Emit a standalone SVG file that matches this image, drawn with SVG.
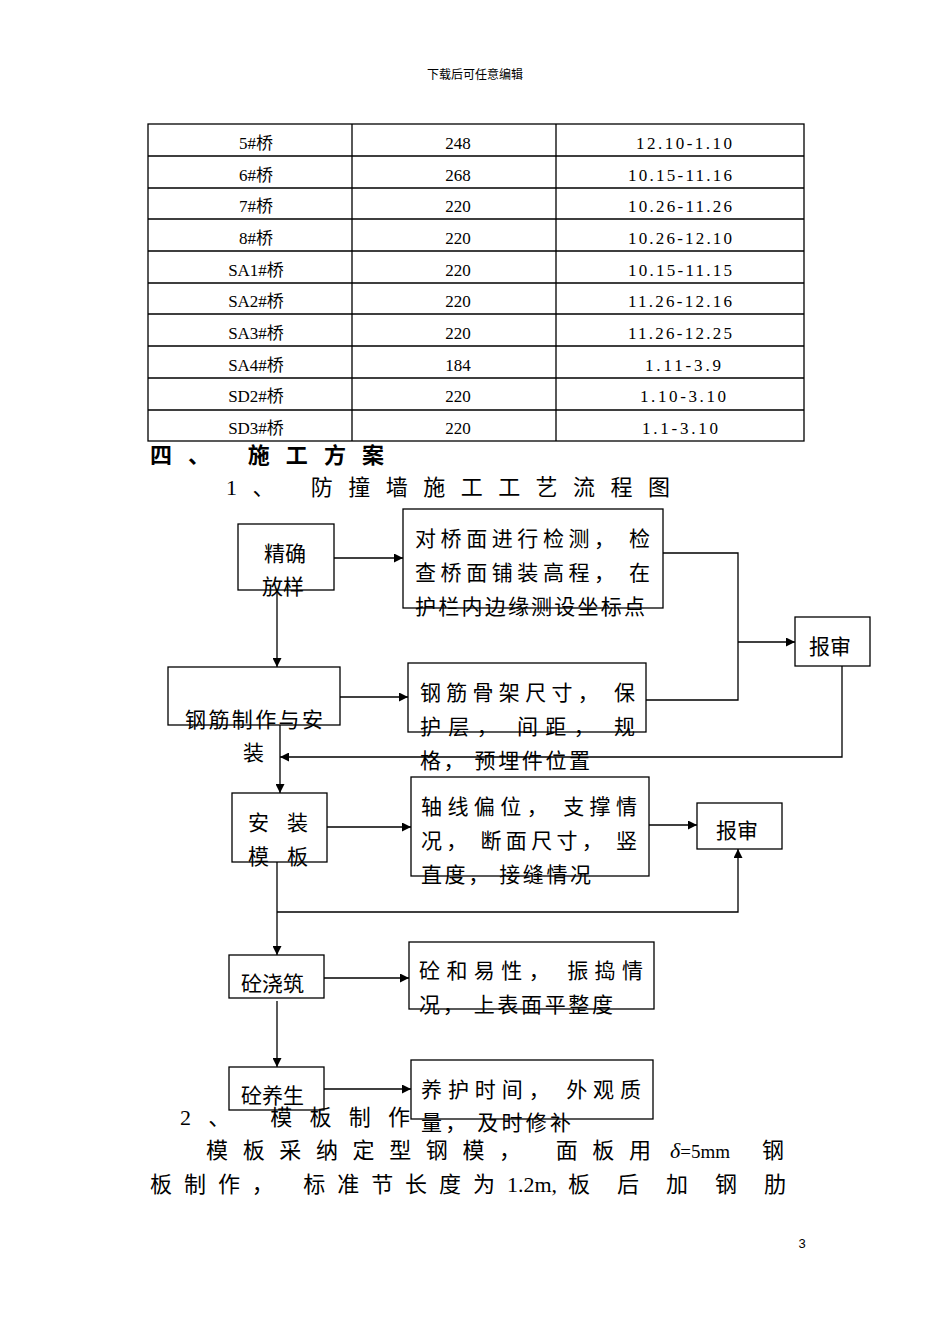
<svg xmlns="http://www.w3.org/2000/svg" width="950" height="1344" viewBox="0 0 950 1344">
<style>
.t{font-family:"Liberation Serif","Noto Sans CJK SC",serif;font-size:17px;fill:#000;text-anchor:middle}
.b{font-family:"Noto Sans CJK SC",sans-serif;font-size:21px;fill:#000}
.r{fill:#fff;stroke:#000;stroke-width:1.3}
.c{stroke:#000;stroke-width:1.3;fill:none}
.h{font-family:"Liberation Serif","Noto Sans CJK SC",serif;font-size:22px;fill:#000}
</style>
<defs><marker id="a" viewBox="0 0 10 10" refX="10" refY="5" markerWidth="9" markerHeight="9" markerUnits="userSpaceOnUse" orient="auto"><path d="M0,0L10,5L0,10z"/></marker></defs>
<rect width="950" height="1344" fill="#fff"/>
<text x="475" y="79" class="t" style="font-size:12px">下载后可任意编辑</text>
<g id="table" class="c">
<rect x="148" y="124" width="656" height="317"/>
<path d="M352 124V441M556 124V441M148 156H804M148 188H804M148 219H804M148 251H804M148 283H804M148 314H804M148 346H804M148 378H804M148 410H804"/>
</g>
<g>
<text class="t" x="256" y="149">5#桥</text><text class="t" x="458" y="149">248</text><text class="t" x="684" y="149" textLength="96">12.10-1.10</text>
<text class="t" x="256" y="181">6#桥</text><text class="t" x="458" y="181">268</text><text class="t" x="680" y="181" textLength="104">10.15-11.16</text>
<text class="t" x="256" y="212">7#桥</text><text class="t" x="458" y="212">220</text><text class="t" x="680" y="212" textLength="104">10.26-11.26</text>
<text class="t" x="256" y="244">8#桥</text><text class="t" x="458" y="244">220</text><text class="t" x="680" y="244" textLength="104">10.26-12.10</text>
<text class="t" x="256" y="276">SA1#桥</text><text class="t" x="458" y="276">220</text><text class="t" x="680" y="276" textLength="104">10.15-11.15</text>
<text class="t" x="256" y="307">SA2#桥</text><text class="t" x="458" y="307">220</text><text class="t" x="680" y="307" textLength="104">11.26-12.16</text>
<text class="t" x="256" y="339">SA3#桥</text><text class="t" x="458" y="339">220</text><text class="t" x="680" y="339" textLength="104">11.26-12.25</text>
<text class="t" x="256" y="371">SA4#桥</text><text class="t" x="458" y="371">184</text><text class="t" x="683" y="371" textLength="76">1.11-3.9</text>
<text class="t" x="256" y="402">SD2#桥</text><text class="t" x="458" y="402">220</text><text class="t" x="683" y="402" textLength="86">1.10-3.10</text>
<text class="t" x="256" y="434">SD3#桥</text><text class="t" x="458" y="434">220</text><text class="t" x="680" y="434" textLength="76">1.1-3.10</text>
</g>
<text class="h" x="150" y="463" font-weight="bold" textLength="234" lengthAdjust="spacing">四、 施工方案</text>
<text class="h" x="226" y="495" textLength="444" lengthAdjust="spacing">1、 防撞墙施工工艺流程图</text>
<g id="connectors" class="c">
<path d="M334 558H403" marker-end="url(#a)"/>
<path d="M277 590V667" marker-end="url(#a)"/>
<path d="M663 553H738V700H646"/>
<path d="M738 642H795" marker-end="url(#a)"/>
<path d="M340 697H408" marker-end="url(#a)"/>
<path d="M842 666V757H280" marker-end="url(#a)"/>
<path d="M280 725V793" marker-end="url(#a)"/>
<path d="M327 827H411" marker-end="url(#a)"/>
<path d="M649 825H697" marker-end="url(#a)"/>
<path d="M277 862V955" marker-end="url(#a)"/>
<path d="M277 912H738V849" marker-end="url(#a)"/>
<path d="M277 1001V1067" marker-end="url(#a)"/>
<path d="M324 978H409" marker-end="url(#a)"/>
<path d="M324 1089H411" marker-end="url(#a)"/>
</g>
<g id="n1"><rect class="r" x="238" y="524" width="96" height="66"/><text class="b" x="264" y="561">精确</text><text class="b" x="262" y="594">放样</text></g>
<g id="n2"><rect class="r" x="403" y="509" width="260" height="99"/><text class="b" x="415" y="546" textLength="235">对桥面进行检测，  检</text><text class="b" x="415" y="580" textLength="235">查桥面铺装高程，  在</text><text class="b" x="415" y="614" textLength="230">护栏内边缘测设坐标点</text></g>
<g id="n3"><rect class="r" x="168" y="667" width="172" height="58"/><text class="b" x="185" y="727" textLength="138">钢筋制作与安</text><text class="b" x="243" y="760">装</text></g>
<g id="n4"><rect class="r" x="408" y="663" width="238" height="69"/><text class="b" x="420" y="700" textLength="215">钢筋骨架尺寸，  保</text><text class="b" x="420" y="734" textLength="215">护层，  间距，  规</text><text class="b" x="420" y="768" textLength="170">格，  预埋件位置</text></g>
<g id="n5"><rect class="r" x="795" y="617" width="75" height="49"/><text class="b" x="809" y="654">报审</text></g>
<g id="n6"><rect class="r" x="232" y="793" width="95" height="69"/><text class="b" x="248" y="830" textLength="60">安 装</text><text class="b" x="248" y="864" textLength="60">模 板</text></g>
<g id="n7"><rect class="r" x="411" y="777" width="238" height="99"/><text class="b" x="421" y="814" textLength="216">轴线偏位，  支撑情</text><text class="b" x="421" y="848" textLength="216">况，  断面尺寸，  竖</text><text class="b" x="421" y="882" textLength="170">直度，  接缝情况</text></g>
<g id="n8"><rect class="r" x="697" y="803" width="85" height="46"/><text class="b" x="716" y="838">报审</text></g>
<g id="n9"><rect class="r" x="229" y="955" width="95" height="43"/><text class="b" x="241" y="991">砼浇筑</text></g>
<g id="n10"><rect class="r" x="409" y="942" width="245" height="67"/><text class="b" x="419" y="978" textLength="224">砼和易性，  振捣情</text><text class="b" x="419" y="1012" textLength="194">况，  上表面平整度</text></g>
<g id="n11"><rect class="r" x="229" y="1067" width="95" height="43"/><text class="b" x="241" y="1103">砼养生</text></g>
<g id="n12"><rect class="r" x="411" y="1060" width="242" height="59"/><text class="b" x="421" y="1097" textLength="220">养护时间，  外观质</text><text class="b" x="421" y="1130" textLength="150">量，  及时修补</text></g>
<text class="h" x="180" y="1125" textLength="230" lengthAdjust="spacing">2、     模板制作</text>
<text class="h" x="206" y="1158" textLength="445" lengthAdjust="spacing">模板采纳定型钢模， 面板用</text>
<text class="h" x="670" y="1158"><tspan font-style="italic">δ</tspan><tspan font-size="19">=5mm</tspan></text>
<text class="h" x="762" y="1158">钢</text>
<text class="h" x="150" y="1192" textLength="345" lengthAdjust="spacing">板制作， 标准节长度为</text>
<text class="h" x="507" y="1192" font-size="20">1.2m,</text>
<text class="h" x="568" y="1192" textLength="218" lengthAdjust="spacing">板后加钢肋</text>
<text x="802" y="1248" style="font-family:'Liberation Sans',sans-serif;font-size:13px;text-anchor:middle">3</text>
</svg>
